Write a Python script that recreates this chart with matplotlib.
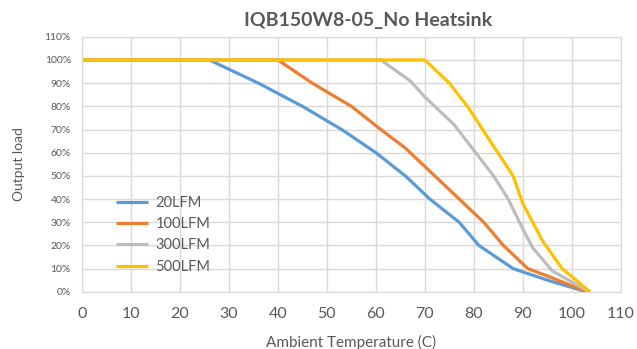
import matplotlib

matplotlib.use("Agg")
import matplotlib.pyplot as plt
from matplotlib.ticker import FuncFormatter, MultipleLocator

plt.rcParams["font.family"] = ["Lato", "DejaVu Sans"]

TITLE = "IQB150W8-05_No Heatsink"
SERIES = ["20LFM", "100LFM", "300LFM", "500LFM"]
COLORS = ["#5B9BD5", "#ED7D31", "#BDBDBD", "#FFC000"]

temp_20 = [0, 26, 36, 45, 53, 60, 66, 71, 77, 81, 88, 95, 103]
load_20 = [100, 100, 90, 80, 70, 60, 50, 40, 30, 20, 10, 5, 0]

temp_100 = [0, 40, 47, 55, 61, 66, 72, 77, 82, 86, 91, 96, 103]
load_100 = [100, 100, 90, 80, 70, 62, 50, 40, 30, 20, 10, 6, 0]

temp_300 = [0, 61, 67, 70, 76, 80, 84, 87, 90, 92, 96, 103.5]
load_300 = [100, 100, 91, 84, 72, 61, 50, 40, 27, 19, 9, 0]

temp_500 = [0, 70, 75, 79, 83, 88, 90, 94, 98, 103.7]
load_500 = [100, 100, 90, 79, 66, 50, 38, 22, 10, 0]

TEXT = "#595959"


def main() -> None:
    fig = plt.figure(figsize=(6.37, 3.49), dpi=100)
    ax = fig.add_axes([0.1287, 0.164, 0.846, 0.7306])

    data = [(temp_20, load_20), (temp_100, load_100), (temp_300, load_300), (temp_500, load_500)]
    for (x, y), label, color in zip(data, SERIES, COLORS):
        ax.plot(x, y, color=color, lw=2.3, label=label, solid_capstyle="butt")

    ax.set_xlim(0, 110)
    ax.set_ylim(0, 110)
    ax.xaxis.set_major_locator(MultipleLocator(10))
    ax.yaxis.set_major_locator(MultipleLocator(10))
    ax.yaxis.set_major_formatter(FuncFormatter(lambda v, _: f"{v:.0f}%"))
    ax.grid(True, color="#D9D9D9", lw=1)
    ax.set_axisbelow(True)
    for spine in ax.spines.values():
        spine.set_color("#D9D9D9")
    ax.tick_params(length=0)
    ax.tick_params(axis="x", labelsize=11.5, colors=TEXT, pad=11)
    ax.tick_params(axis="y", labelsize=7.5, colors=TEXT, pad=8)

    ax.set_title(TITLE, fontsize=14, fontweight="bold", color=TEXT, pad=8, x=0.53)
    ax.set_xlabel("Ambient Temperature (C)", fontsize=11, color=TEXT, labelpad=10)
    ax.set_ylabel("Output load", fontsize=10, color=TEXT, labelpad=14)

    ax.legend(loc="upper left", bbox_to_anchor=(0.05, 0.405), frameon=False,
              fontsize=10.5, labelcolor=TEXT, handlelength=2.2,
              labelspacing=0.5, handletextpad=0.5, borderpad=0)

    fig.savefig("out.png", dpi=100)
    plt.close(fig)


if __name__ == "__main__":
    main()
